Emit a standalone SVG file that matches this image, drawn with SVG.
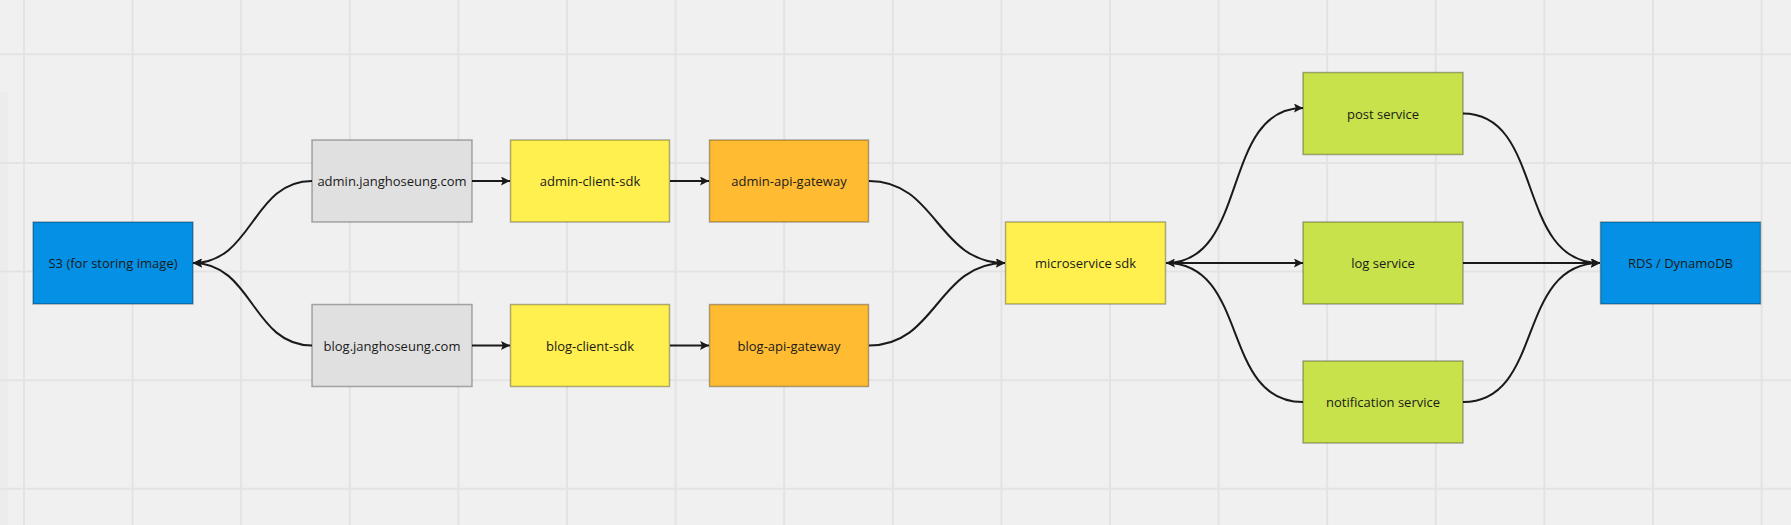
<svg xmlns="http://www.w3.org/2000/svg" width="1791" height="525" viewBox="0 0 1791 525">
  <style>
    .node rect { stroke: #000; stroke-opacity: 0.3; stroke-width: 1.5; }
    .node text { font-family: "Open Sans", "Noto Sans", "Liberation Sans", sans-serif; font-size: 13px; fill: #1a1a1a; text-anchor: middle; dominant-baseline: central; }
    .gray { fill: #e0e0e0; }
    .blue { fill: #0390e5; }
    .yellow { fill: #fff04f; }
    .orange { fill: #ffbc33; }
    .green { fill: #c7e24a; }
    .conn path { fill: none; stroke: #1a1a1a; stroke-width: 2; }
    .grid { stroke: #e3e3e3; stroke-width: 2; fill: none; }
  </style>
  <defs>
    <marker id="arrow" viewBox="0 0 10 10" refX="10" refY="5" markerWidth="9" markerHeight="9" markerUnits="userSpaceOnUse" orient="auto">
      <path d="M0,0 L10,5 L0,10 L2,5 Z" fill="#1a1a1a"/>
    </marker>
  </defs>

  <rect x="0" y="0" width="1791" height="525" fill="#f0f0f0"/>
  <rect x="0" y="92" width="8" height="433" fill="#e9e9e9" opacity="0.6"/>
  <path class="grid" d="M24,0V525 M132.6,0V525 M241.2,0V525 M349.8,0V525 M458.4,0V525 M567,0V525 M675.6,0V525 M784.2,0V525 M892.8,0V525 M1001.4,0V525 M1110,0V525 M1218.6,0V525 M1327.2,0V525 M1435.8,0V525 M1544.4,0V525 M1653,0V525 M1761.6,0V525 M0,54.3H1791 M0,163H1791 M0,271.6H1791 M0,380.2H1791 M0,488.8H1791"/>

  <g id="connectors" class="conn">
    <path d="M312,181 C252,181 253,263 193,263" marker-end="url(#arrow)"/>
    <path d="M312,345.5 C252,345.5 253,263 193,263" marker-end="url(#arrow)"/>
    <path d="M472,181 H510" marker-end="url(#arrow)"/>
    <path d="M472,345.5 H510" marker-end="url(#arrow)"/>
    <path d="M670,181 H709" marker-end="url(#arrow)"/>
    <path d="M670,345.5 H709" marker-end="url(#arrow)"/>
    <path d="M869,181 C937,181 937,263 1005,263" marker-end="url(#arrow)"/>
    <path d="M869,345.5 C937,345.5 937,263 1005,263" marker-end="url(#arrow)"/>
    <path d="M1166,263 C1250,263 1220,108 1303,108" marker-end="url(#arrow)"/>
    <path d="M1166,263 H1303" marker-end="url(#arrow)"/>
    <path d="M1303,402 C1220,402 1250,263 1166,263" marker-end="url(#arrow)"/>
    <path d="M1463,113.5 C1545,113.5 1515,263 1600,263" marker-end="url(#arrow)"/>
    <path d="M1463,263 H1600" marker-end="url(#arrow)"/>
    <path d="M1463,402 C1545,402 1515,263 1600,263" marker-end="url(#arrow)"/>
  </g>

  <g id="s3" class="node"><rect class="blue" x="33" y="222" width="160" height="82"/><text x="113" y="263">S3 (for storing image)</text></g>
  <g id="admin-domain" class="node"><rect class="gray" x="312" y="140" width="160" height="82"/><text x="392" y="181">admin.janghoseung.com</text></g>
  <g id="blog-domain" class="node"><rect class="gray" x="312" y="304.5" width="160" height="82"/><text x="392" y="345.5">blog.janghoseung.com</text></g>
  <g id="admin-client-sdk" class="node"><rect class="yellow" x="510.5" y="140" width="159" height="82"/><text x="590" y="181">admin-client-sdk</text></g>
  <g id="blog-client-sdk" class="node"><rect class="yellow" x="510.5" y="304.5" width="159" height="82"/><text x="590" y="345.5">blog-client-sdk</text></g>
  <g id="admin-api-gateway" class="node"><rect class="orange" x="709.5" y="140" width="159" height="82"/><text x="789" y="181">admin-api-gateway</text></g>
  <g id="blog-api-gateway" class="node"><rect class="orange" x="709.5" y="304.5" width="159" height="82"/><text x="789" y="345.5">blog-api-gateway</text></g>
  <g id="microservice-sdk" class="node"><rect class="yellow" x="1005.5" y="222" width="160" height="82"/><text x="1085.5" y="263">microservice sdk</text></g>
  <g id="post-service" class="node"><rect class="green" x="1303" y="72.5" width="160" height="82"/><text x="1383" y="113.5">post service</text></g>
  <g id="log-service" class="node"><rect class="green" x="1303" y="222" width="160" height="82"/><text x="1383" y="263">log service</text></g>
  <g id="notification-service" class="node"><rect class="green" x="1303" y="361" width="160" height="82"/><text x="1383" y="402">notification service</text></g>
  <g id="rds" class="node"><rect class="blue" x="1600.5" y="222" width="160" height="82"/><text x="1680.5" y="263">RDS / DynamoDB</text></g>
</svg>
